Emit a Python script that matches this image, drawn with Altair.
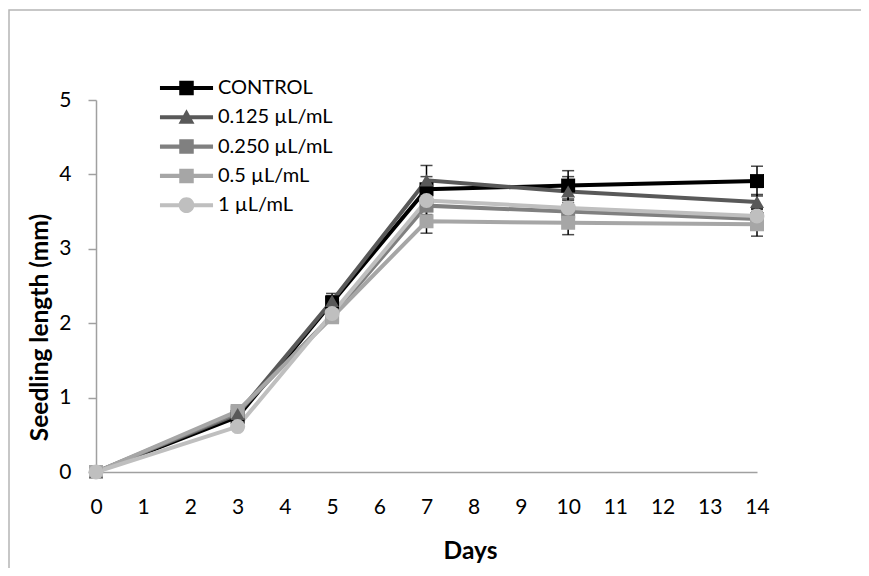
import altair as alt
import pandas as pd

days = [0, 3, 5, 7, 10, 14]
series = ["CONTROL", "0.125 µL/mL", "0.250 µL/mL", "0.5 µL/mL", "1 µL/mL"]
colors = ["#000000", "#595959", "#808080", "#a6a6a6", "#bfbfbf"]

control = [0, 0.74, 2.28, 3.80, 3.85, 3.91]
c0125 = [0, 0.78, 2.30, 3.92, 3.77, 3.63]
c0250 = [0, 0.80, 2.10, 3.58, 3.50, 3.40]
c05 = [0, 0.82, 2.08, 3.37, 3.35, 3.33]
c1 = [0, 0.61, 2.13, 3.65, 3.55, 3.44]

err_control = [0, 0.05, 0.12, 0.17, 0.20, 0.20]
err_0125 = [0, 0.05, 0.07, 0.20, 0.20, 0.10]
err_0250 = [0, 0.05, 0.08, 0.12, 0.12, 0.10]
err_05 = [0, 0.04, 0.06, 0.16, 0.16, 0.16]
err_1 = [0, 0.04, 0.06, 0.12, 0.12, 0.10]

vals = [control, c0125, c0250, c05, c1]
errs = [err_control, err_0125, err_0250, err_05, err_1]

rows = []
for i, (s, v, e) in enumerate(zip(series, vals, errs)):
    for d, y, er in zip(days, v, e):
        rows.append({"day": d, "value": y, "lo": y - er, "hi": y + er,
                     "series": s, "idx": i})
df = pd.DataFrame(rows)

FONT = "Lato"
FS = 21
LFS = 20
TFS = 24.5

# legend symbols: line segment with marker (1 unit = sqrt(size)/2 px = 14.5 px)
line_part = "M-1.83,-0.14H1.83V0.14H-1.83Z"
sq = line_part + "M-0.5,-0.5H0.5V0.5H-0.5Z"
tri = line_part + "M0,-0.55L0.55,0.44L-0.55,0.44Z"
circ = line_part + "M-0.54,0A0.54,0.54 0 1,1 0.54,0A0.54,0.54 0 1,1 -0.54,0Z"
legend_shapes = [sq, tri, sq, sq, circ]

LEG = alt.Legend(title=None, orient="none", legendX=76, legendY=-26.5,
                 symbolSize=841, labelOffset=17, rowPadding=4.3, padding=0,
                 labelFont=FONT, labelFontSize=LFS, labelColor="#000000",
                 symbolStrokeWidth=0, symbolOpacity=1)

xscale = alt.Scale(domain=[0, 14], nice=False)
yscale = alt.Scale(domain=[0, 5], nice=False)
color_scale = alt.Scale(domain=series, range=colors)

XAX = alt.Axis(values=list(range(0, 15)), title="Days", grid=False, format="d",
               ticks=False, tickSize=0, labelPadding=24,
               labelFontSize=FS, labelFont=FONT, labelColor="#000000",
               domainColor="#a0a0a0", domainWidth=1.5, labelFlush=False,
               titleFont=FONT, titleFontSize=TFS, titleFontWeight="bold",
               titleColor="#000000", titleX=374, titleY=79,
               titleAlign="center", titleBaseline="middle")
YAX = alt.Axis(values=[0, 1, 2, 3, 4, 5], title="Seedling length (mm)", format="d",
               grid=False, tickSize=8, tickColor="#a0a0a0", tickWidth=1.5,
               labelPadding=17, labelFontSize=FS, labelFont=FONT,
               labelColor="#000000", domainColor="#a0a0a0", domainWidth=1.5,
               titleFont=FONT, titleFontSize=TFS, titleFontWeight="bold",
               titleColor="#000000", titleAngle=270, titleX=-56, titleY=227,
               titleAlign="center", titleBaseline="middle")

X = alt.X("day:Q", scale=xscale, axis=XAX)
Y = alt.Y("value:Q", scale=yscale, axis=YAX)
C = alt.Color("series:N", scale=color_scale, legend=LEG)

base = alt.Chart(df)

frame = alt.Chart(pd.DataFrame({"a": [0]})).mark_rect(
    filled=False, stroke="#b5b5b5", strokeWidth=1.5, clip=False
).encode(x=alt.value(-87), x2=alt.value(900), y=alt.value(-90), y2=alt.value(700))

legend_layer = base.transform_filter("datum.day < 0").mark_point(filled=True).encode(
    x=X, y=Y, color=C,
    shape=alt.Shape("series:N", scale=alt.Scale(domain=series, range=legend_shapes),
                    legend=LEG),
)

err_rule = base.mark_rule(color="#000000", strokeWidth=1.5).encode(
    x=X, y=alt.Y("lo:Q", scale=yscale, axis=YAX), y2="hi:Q")
err_hi = base.mark_tick(color="#000000", thickness=1.5, size=12, orient="horizontal").encode(
    x=X, y=alt.Y("hi:Q", scale=yscale, axis=YAX))
err_lo = base.mark_tick(color="#000000", thickness=1.5, size=12, orient="horizontal").encode(
    x=X, y=alt.Y("lo:Q", scale=yscale, axis=YAX))

lines = base.mark_line(strokeWidth=4).encode(x=X, y=Y, color=C, order="day:Q")

squares = base.transform_filter(
    alt.FieldOneOfPredicate(field="series", oneOf=["CONTROL", "0.250 µL/mL", "0.5 µL/mL"])
).mark_point(shape="square", filled=True, size=196, opacity=1).encode(x=X, y=Y, color=C)
triangles = base.transform_filter(alt.datum.series == "0.125 µL/mL").mark_point(
    shape="triangle-up", filled=True, size=196, opacity=1).encode(x=X, y=Y, color=C)
circles = base.transform_filter(alt.datum.series == "1 µL/mL").mark_point(
    shape="circle", filled=True, size=225, opacity=1).encode(x=X, y=Y, color=C)

chart = alt.layer(frame, legend_layer, err_rule, err_hi, err_lo, lines, squares,
                  triangles, circles).properties(
    width=661, height=372,
    padding={"left": 88, "top": 92, "right": 104, "bottom": 96},
    autosize=alt.AutoSizeParams(type="none"),
    background="#ffffff",
).configure_view(stroke=None)

chart.save("out.html", embed_options={"renderer": "svg", "actions": False})
